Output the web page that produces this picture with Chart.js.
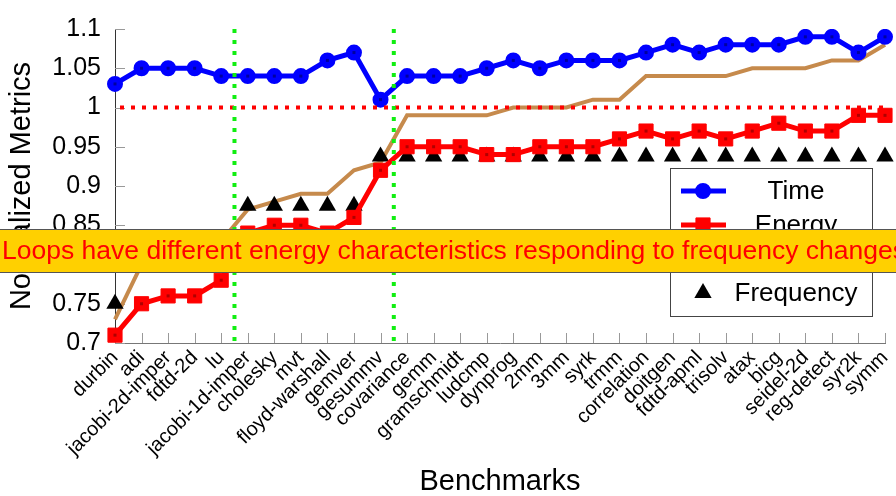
<!DOCTYPE html>
<html>
<head>
<meta charset="utf-8">
<script src="https://cdn.jsdelivr.net/npm/chart.js@4.4.1/dist/chart.umd.min.js"></script>
<style>
  html, body { margin: 0; padding: 0; background: #fff; }
  #wrap { width: 896px; height: 496px; position: relative; }
</style>
</head>
<body>
<div id="wrap"><canvas id="chart"></canvas></div>
<script>
const benchmarks = ["durbin", "adi", "jacobi-2d-imper", "fdtd-2d", "lu", "jacobi-1d-imper", "cholesky", "mvt",
  "floyd-warshall", "gemver", "gesummv", "covariance", "gemm", "gramschmidt", "ludcmp", "dynprog", "2mm", "3mm",
  "syrk", "trmm", "correlation", "doitgen", "fdtd-apml", "trisolv", "atax", "bicg", "seidel-2d", "reg-detect",
  "syr2k", "symm"];
const timeValues = [1.03, 1.05, 1.05, 1.05, 1.04, 1.04, 1.04, 1.04, 1.06, 1.07, 1.01, 1.04, 1.04, 1.04, 1.05,
  1.06, 1.05, 1.06, 1.06, 1.06, 1.07, 1.08, 1.07, 1.08, 1.08, 1.08, 1.09, 1.09, 1.07, 1.09];
const energyValues = [0.71, 0.75, 0.76, 0.76, 0.78, 0.84, 0.85, 0.85, 0.84, 0.86, 0.92, 0.95, 0.95, 0.95, 0.94,
  0.94, 0.95, 0.95, 0.95, 0.96, 0.97, 0.96, 0.97, 0.96, 0.97, 0.98, 0.97, 0.97, 0.99, 0.99];
// brown curve, its legend entry sits behind the banner
const powerValues = [0.73, 0.80, 0.81, 0.82, 0.83, 0.87, 0.88, 0.89, 0.89, 0.92, 0.93, 0.99, 0.99, 0.99, 0.99,
  1.00, 1.00, 1.00, 1.01, 1.01, 1.04, 1.04, 1.04, 1.04, 1.05, 1.05, 1.05, 1.06, 1.06, 1.08];
const frequencyValues = [0.75, 0.8125, 0.8125, 0.8125, 0.8125, 0.875, 0.875, 0.875, 0.875, 0.875,
  0.9375, 0.9375, 0.9375, 0.9375, 0.9375, 0.9375, 0.9375, 0.9375, 0.9375, 0.9375,
  0.9375, 0.9375, 0.9375, 0.9375, 0.9375, 0.9375, 0.9375, 0.9375, 0.9375, 0.9375];
const groupBreaks = [4.5, 10.5];
const baseline = 1.0;
const bannerText = "Loops have different energy characteristics responding to frequency changes";

const FONT = "'Liberation Sans', Arial, Helvetica, sans-serif";
Chart.defaults.font.family = FONT;
Chart.defaults.color = "#000";

const overlay = {
  id: "overlay",
  beforeDatasetsDraw(chart) {
    const ctx = chart.ctx;
    const x = chart.scales.x, y = chart.scales.y;
    ctx.save();
    ctx.strokeStyle = "#999";
    ctx.lineWidth = 1;
    ctx.beginPath();
    x.ticks.forEach((t, i) => {
      const px = Math.round(x.getPixelForTick(i)) + 0.5;
      ctx.moveTo(px, y.bottom);
      ctx.lineTo(px, y.bottom - 10);
    });
    y.ticks.forEach((t, i) => {
      const py = Math.round(y.getPixelForTick(i)) + 0.5;
      ctx.moveTo(x.left, py);
      ctx.lineTo(x.left + 10, py);
    });
    ctx.stroke();
    ctx.restore();
  },
  afterDatasetsDraw(chart) {
    const ctx = chart.ctx;
    const x = chart.scales.x, y = chart.scales.y;
    ctx.save();
    // darker marker centres
    [[0, "#0000a0"], [1, "#b00000"]].forEach(([i, c]) => {
      ctx.fillStyle = c;
      chart.getDatasetMeta(i).data.forEach(p => ctx.fillRect(p.x - 1.5, p.y - 1.5, 3, 3));
    });
    ctx.lineWidth = 4;
    ctx.setLineDash([4, 7]);
    ctx.strokeStyle = "#ff0000";
    const by = y.getPixelForValue(baseline);
    ctx.beginPath();
    ctx.moveTo(x.left + 5, by);
    ctx.lineTo(x.right, by);
    ctx.stroke();
    ctx.strokeStyle = "#11ee11";
    groupBreaks.forEach(b => {
      const gx = x.getPixelForValue(b);
      ctx.beginPath();
      ctx.moveTo(gx, y.top);
      ctx.lineTo(gx, y.bottom);
      ctx.stroke();
    });
    ctx.restore();
  },
  afterDraw(chart) {
    const ctx = chart.ctx;
    ctx.save();
    // legend box
    const lx = 670, ly = 168, lw = 202, lh = 148;
    ctx.fillStyle = "#fff";
    ctx.fillRect(lx, ly, lw, lh);
    ctx.strokeStyle = "#444";
    ctx.lineWidth = 1;
    ctx.strokeRect(lx + 0.5, ly + 0.5, lw, lh);
    const order = [0, 1, 3, 2];
    order.forEach((di, row) => {
      const ds = chart.data.datasets[di];
      const cy = ly + 23 + row * 34;
      if (ds.showLine !== false) {
        ctx.strokeStyle = ds.borderColor;
        ctx.lineWidth = ds.borderWidth;
        ctx.beginPath();
        ctx.moveTo(lx + 11, cy);
        ctx.lineTo(lx + 56, cy);
        ctx.stroke();
      }
      if (ds.pointRadius > 0) {
        ctx.fillStyle = ds.pointBackgroundColor;
        ctx.strokeStyle = ds.pointBorderColor;
        ctx.lineWidth = ds.pointBorderWidth;
        Chart.helpers.drawPoint(ctx, {pointStyle: ds.pointStyle, radius: ds.pointRadius, borderWidth: ds.pointBorderWidth}, lx + 33, cy);
      }
      ctx.fillStyle = "#000";
      ctx.font = "26px " + FONT;
      ctx.textAlign = "center";
      ctx.textBaseline = "middle";
      ctx.fillText(ds.label, lx + 126, cy + 1);
    });
    // banner
    const top = 229, h = 44;
    ctx.fillStyle = "#ffd000";
    ctx.fillRect(0, top, chart.width, h);
    ctx.strokeStyle = "#555";
    ctx.lineWidth = 1;
    ctx.beginPath();
    ctx.moveTo(0, top + 0.5); ctx.lineTo(chart.width, top + 0.5);
    ctx.moveTo(0, top + h - 0.5); ctx.lineTo(chart.width, top + h - 0.5);
    ctx.stroke();
    ctx.font = "100px " + FONT;
    const size = 100 * 904 / ctx.measureText(bannerText).width;
    ctx.font = size.toFixed(2) + "px " + FONT;
    ctx.fillStyle = "#ff0000";
    ctx.textAlign = "left";
    ctx.textBaseline = "middle";
    ctx.fillText(bannerText, 2, top + h / 2 + 1);
    ctx.restore();
  }
};

const ctx = document.getElementById("chart");
new Chart(ctx, {
  type: "line",
  data: {
    labels: benchmarks,
    datasets: [
      {
        label: "Time",
        data: timeValues,
        borderColor: "#0000ff",
        backgroundColor: "#0000ff",
        borderWidth: 5,
        pointStyle: "circle",
        pointRadius: 7,
        pointBorderWidth: 2,
        pointBackgroundColor: "#0000ff",
        pointBorderColor: "#0000ff",
        order: 0,
      },
      {
        label: "Energy",
        data: energyValues,
        borderColor: "#ff0000",
        backgroundColor: "#ff0000",
        borderWidth: 5,
        pointStyle: "rect",
        pointRadius: 10,
        pointBorderWidth: 1,
        pointBackgroundColor: "#ff0000",
        pointBorderColor: "#ff0000",
        order: 1,
      },
      {
        label: "Frequency",
        data: frequencyValues,
        showLine: false,
        borderColor: "#000",
        backgroundColor: "#000",
        pointStyle: "triangle",
        pointRadius: 10,
        pointBorderWidth: 0,
        pointBackgroundColor: "#000",
        pointBorderColor: "#000",
        order: 2,
      },
      {
        label: "Power",
        data: powerValues,
        borderColor: "#c68a4c",
        backgroundColor: "#c68a4c",
        borderWidth: 4,
        pointRadius: 0,
        order: 3,
      },
    ],
  },
  options: {
    responsive: true,
    maintainAspectRatio: false,
    animation: false,
    layout: { padding: { top: 17, right: 9, left: 0, bottom: 0 } },
    plugins: { legend: { display: false }, tooltip: { enabled: false } },
    elements: { line: { tension: 0 } },
    scales: {
      x: {
        grid: { display: false, drawTicks: false },
        border: { color: "#777", width: 1 },
        ticks: { autoSkip: false, maxRotation: 45, minRotation: 45, padding: 3, font: { size: 20 } },
        title: { display: true, text: "Benchmarks", font: { size: 29, lineHeight: 1 }, padding: { top: 0, bottom: 0 } },
        afterFit(scale) { scale.height = 153; scale.paddingRight = 0; },
      },
      y: {
        min: 0.7,
        max: 1.1,
        grid: { display: false, drawTicks: false },
        border: { color: "#333", width: 1 },
        ticks: { stepSize: 0.05, padding: 14, font: { size: 25 }, callback: v => String(+v.toFixed(2)) },
        title: { display: true, text: "Normalized Metrics", font: { size: 29, lineHeight: 1 }, padding: { top: 7, bottom: 0 } },
        afterFit(scale) { scale.width = 115; },
      },
    },
  },
  plugins: [overlay],
});
</script>
</body>
</html>
